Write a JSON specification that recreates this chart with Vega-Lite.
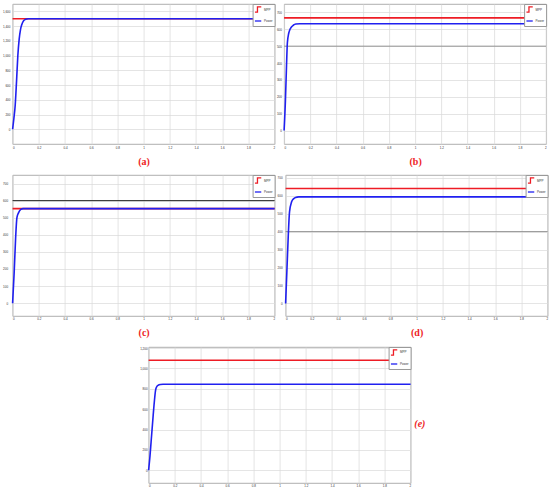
{
  "$schema": "https://vega.github.io/schema/vega-lite/v6.json",
  "background": "white",
  "padding": {"left": 1.6, "top": 3, "right": 2, "bottom": 2},
  "datasets": {
    "curves": [
      {"panel": "a", "series": "MPP", "t": 0, "P": 1500},
      {"panel": "a", "series": "MPP", "t": 2, "P": 1500},
      {"panel": "a", "series": "Power", "t": 0, "P": 0},
      {"panel": "a", "series": "Power", "t": 0.01, "P": 150},
      {"panel": "a", "series": "Power", "t": 0.02, "P": 330},
      {"panel": "a", "series": "Power", "t": 0.03, "P": 650},
      {"panel": "a", "series": "Power", "t": 0.04, "P": 1000},
      {"panel": "a", "series": "Power", "t": 0.05, "P": 1220},
      {"panel": "a", "series": "Power", "t": 0.06, "P": 1350},
      {"panel": "a", "series": "Power", "t": 0.07, "P": 1420},
      {"panel": "a", "series": "Power", "t": 0.08, "P": 1462},
      {"panel": "a", "series": "Power", "t": 0.09, "P": 1483},
      {"panel": "a", "series": "Power", "t": 0.1, "P": 1494},
      {"panel": "a", "series": "Power", "t": 0.12, "P": 1500},
      {"panel": "a", "series": "Power", "t": 2, "P": 1500},
      {"panel": "b", "series": "MPP", "t": 0, "P": 668},
      {"panel": "b", "series": "MPP", "t": 2, "P": 668},
      {"panel": "b", "series": "Power", "t": 0, "P": 0},
      {"panel": "b", "series": "Power", "t": 0.01, "P": 175},
      {"panel": "b", "series": "Power", "t": 0.018, "P": 372},
      {"panel": "b", "series": "Power", "t": 0.025, "P": 520},
      {"panel": "b", "series": "Power", "t": 0.035, "P": 575},
      {"panel": "b", "series": "Power", "t": 0.045, "P": 600},
      {"panel": "b", "series": "Power", "t": 0.056, "P": 614},
      {"panel": "b", "series": "Power", "t": 0.07, "P": 624},
      {"panel": "b", "series": "Power", "t": 0.09, "P": 631},
      {"panel": "b", "series": "Power", "t": 0.12, "P": 633},
      {"panel": "b", "series": "Power", "t": 2, "P": 633},
      {"panel": "c", "series": "MPP", "t": 0, "P": 553},
      {"panel": "c", "series": "MPP", "t": 2, "P": 553},
      {"panel": "c", "series": "Power", "t": 0, "P": 0},
      {"panel": "c", "series": "Power", "t": 0.012, "P": 180},
      {"panel": "c", "series": "Power", "t": 0.023, "P": 380},
      {"panel": "c", "series": "Power", "t": 0.033, "P": 500},
      {"panel": "c", "series": "Power", "t": 0.046, "P": 530},
      {"panel": "c", "series": "Power", "t": 0.063, "P": 549},
      {"panel": "c", "series": "Power", "t": 0.08, "P": 553},
      {"panel": "c", "series": "Power", "t": 2, "P": 553},
      {"panel": "d", "series": "MPP", "t": 0, "P": 640},
      {"panel": "d", "series": "MPP", "t": 2, "P": 640},
      {"panel": "d", "series": "Power", "t": 0, "P": 0},
      {"panel": "d", "series": "Power", "t": 0.01, "P": 183},
      {"panel": "d", "series": "Power", "t": 0.02, "P": 370},
      {"panel": "d", "series": "Power", "t": 0.03, "P": 510},
      {"panel": "d", "series": "Power", "t": 0.046, "P": 566},
      {"panel": "d", "series": "Power", "t": 0.06, "P": 582},
      {"panel": "d", "series": "Power", "t": 0.076, "P": 590},
      {"panel": "d", "series": "Power", "t": 0.1, "P": 593},
      {"panel": "d", "series": "Power", "t": 2, "P": 593},
      {"panel": "e", "series": "MPP", "t": 0, "P": 1080},
      {"panel": "e", "series": "MPP", "t": 2, "P": 1080},
      {"panel": "e", "series": "Power", "t": 0, "P": 0},
      {"panel": "e", "series": "Power", "t": 0.01, "P": 130},
      {"panel": "e", "series": "Power", "t": 0.019, "P": 278},
      {"panel": "e", "series": "Power", "t": 0.035, "P": 540},
      {"panel": "e", "series": "Power", "t": 0.045, "P": 690},
      {"panel": "e", "series": "Power", "t": 0.053, "P": 785},
      {"panel": "e", "series": "Power", "t": 0.062, "P": 820},
      {"panel": "e", "series": "Power", "t": 0.072, "P": 834},
      {"panel": "e", "series": "Power", "t": 0.09, "P": 842},
      {"panel": "e", "series": "Power", "t": 0.11, "P": 844},
      {"panel": "e", "series": "Power", "t": 2, "P": 844}
    ],
    "emph": [
      {"panel": "b", "P": 500},
      {"panel": "c", "P": 600},
      {"panel": "d", "P": 400}
    ]
  },
  "vconcat": [
    {
      "hconcat": [
        {
          "width": 262, "height": 140,
          "layer": [
            {
              "data": {"name": "curves"},
              "transform": [{"filter": "datum.panel === 'a'"}],
              "mark": {"type": "line", "strokeWidth": 1.6, "interpolate": "monotone"},
              "encoding": {
                "x": {"field": "t", "type": "quantitative", "scale": {"domain": [0, 2], "nice": false}, "axis": {"values": [0, 0.2, 0.4, 0.6, 0.8, 1, 1.2, 1.4, 1.6, 1.8, 2], "format": "~g", "title": "(a)"}},
                "y": {"field": "P", "type": "quantitative", "scale": {"domain": [-200, 1700], "nice": false, "zero": false}, "axis": {"values": [0, 200, 400, 600, 800, 1000, 1200, 1400, 1600], "title": null, "labelPadding": 2.7}},
                "color": {"field": "series", "type": "nominal", "scale": {"domain": ["MPP", "Power"], "range": ["#ee1c25", "#2020f0"]}, "legend": {"title": null, "encode": {"symbols": {"update": {"shape": {"signal": "datum.value === 'MPP' ? 'M-1,0.8L-0.2,0.8L-0.2,-0.8L1,-0.8' : 'stroke'"}}}}}}
              }
            }
          ]
        },
        {
          "width": 262, "height": 140,
          "layer": [
            {
              "data": {"name": "emph"},
              "transform": [{"filter": "datum.panel === 'b'"}],
              "mark": {"type": "rule", "color": "#8a8a8a", "strokeWidth": 0.9},
              "encoding": {"y": {"field": "P", "type": "quantitative", "axis": {"values": [0, 100, 200, 300, 400, 500, 600, 700], "title": null, "labelPadding": 2.7}}}
            },
            {
              "data": {"name": "curves"},
              "transform": [{"filter": "datum.panel === 'b'"}],
              "mark": {"type": "line", "strokeWidth": 1.6, "interpolate": "monotone"},
              "encoding": {
                "x": {"field": "t", "type": "quantitative", "scale": {"domain": [0, 2], "nice": false}, "axis": {"values": [0, 0.2, 0.4, 0.6, 0.8, 1, 1.2, 1.4, 1.6, 1.8, 2], "format": "~g", "title": "(b)"}},
                "y": {"field": "P", "type": "quantitative", "scale": {"domain": [-80, 750], "nice": false, "zero": false}, "axis": {"values": [0, 100, 200, 300, 400, 500, 600, 700], "title": null, "labelPadding": 2.7}},
                "color": {"field": "series", "type": "nominal", "scale": {"domain": ["MPP", "Power"], "range": ["#ee1c25", "#2020f0"]}, "legend": {"title": null, "encode": {"symbols": {"update": {"shape": {"signal": "datum.value === 'MPP' ? 'M-1,0.8L-0.2,0.8L-0.2,-0.8L1,-0.8' : 'stroke'"}}}}}}
              }
            }
          ]
        }
      ],
      "spacing": -3.5,
      "bounds": "full",
      "resolve": {"scale": {"color": "independent"}, "legend": {"color": "independent"}}
    },
    {
      "hconcat": [
        {
          "width": 262, "height": 141,
          "layer": [
            {
              "data": {"name": "emph"},
              "transform": [{"filter": "datum.panel === 'c'"}],
              "mark": {"type": "rule", "color": "#222222", "strokeWidth": 1},
              "encoding": {"y": {"field": "P", "type": "quantitative", "axis": {"values": [0, 100, 200, 300, 400, 500, 600, 700], "title": null, "labelPadding": 5}}}
            },
            {
              "data": {"name": "curves"},
              "transform": [{"filter": "datum.panel === 'c'"}],
              "mark": {"type": "line", "strokeWidth": 1.6, "interpolate": "monotone"},
              "encoding": {
                "x": {"field": "t", "type": "quantitative", "scale": {"domain": [0, 2], "nice": false}, "axis": {"values": [0, 0.2, 0.4, 0.6, 0.8, 1, 1.2, 1.4, 1.6, 1.8, 2], "format": "~g", "title": "(c)"}},
                "y": {"field": "P", "type": "quantitative", "scale": {"domain": [-75, 750], "nice": false, "zero": false}, "axis": {"values": [0, 100, 200, 300, 400, 500, 600, 700], "title": null, "labelPadding": 5}},
                "color": {"field": "series", "type": "nominal", "scale": {"domain": ["MPP", "Power"], "range": ["#ee1c25", "#2020f0"]}, "legend": {"title": null, "encode": {"symbols": {"update": {"shape": {"signal": "datum.value === 'MPP' ? 'M-1,0.8L-0.2,0.8L-0.2,-0.8L1,-0.8' : 'stroke'"}}}}}}
              }
            }
          ]
        },
        {
          "width": 262, "height": 141,
          "layer": [
            {
              "data": {"name": "emph"},
              "transform": [{"filter": "datum.panel === 'd'"}],
              "mark": {"type": "rule", "color": "#8a8a8a", "strokeWidth": 0.9},
              "encoding": {"y": {"field": "P", "type": "quantitative", "axis": {"values": [0, 100, 200, 300, 400, 500, 600, 700], "title": null, "labelPadding": 3.5}}}
            },
            {
              "data": {"name": "curves"},
              "transform": [{"filter": "datum.panel === 'd'"}],
              "mark": {"type": "line", "strokeWidth": 1.6, "interpolate": "monotone"},
              "encoding": {
                "x": {"field": "t", "type": "quantitative", "scale": {"domain": [0, 2], "nice": false}, "axis": {"values": [0, 0.2, 0.4, 0.6, 0.8, 1, 1.2, 1.4, 1.6, 1.8, 2], "format": "~g", "title": "(d)"}},
                "y": {"field": "P", "type": "quantitative", "scale": {"domain": [-70, 715], "nice": false, "zero": false}, "axis": {"values": [0, 100, 200, 300, 400, 500, 600, 700], "title": null, "labelPadding": 3.5}},
                "color": {"field": "series", "type": "nominal", "scale": {"domain": ["MPP", "Power"], "range": ["#ee1c25", "#2020f0"]}, "legend": {"title": null, "encode": {"symbols": {"update": {"shape": {"signal": "datum.value === 'MPP' ? 'M-1,0.8L-0.2,0.8L-0.2,-0.8L1,-0.8' : 'stroke'"}}}}}}
              }
            }
          ]
        }
      ],
      "spacing": -2,
      "bounds": "full",
      "resolve": {"scale": {"color": "independent"}, "legend": {"color": "independent"}}
    },
    {
      "hconcat": [
        {
          "width": 116, "height": 20,
          "view": {"stroke": null},
          "data": {"values": []},
          "mark": "point",
          "encoding": {}
        },
        {
          "width": 262, "height": 136,
          "title": {"text": "(e)", "orient": "right", "angle": 0, "color": "#ee1c25", "font": "Liberation Serif", "fontSize": 10, "fontWeight": "bold", "fontStyle": "italic", "offset": -5, "dy": 4},
          "layer": [
            {
              "data": {"name": "curves"},
              "transform": [{"filter": "datum.panel === 'e'"}],
              "mark": {"type": "line", "strokeWidth": 1.6, "interpolate": "monotone"},
              "encoding": {
                "x": {"field": "t", "type": "quantitative", "scale": {"domain": [0, 2], "nice": false}, "axis": {"values": [0, 0.2, 0.4, 0.6, 0.8, 1, 1.2, 1.4, 1.6, 1.8, 2], "format": "~g", "title": null}},
                "y": {"field": "P", "type": "quantitative", "scale": {"domain": [-125, 1210], "nice": false, "zero": false}, "axis": {"values": [0, 200, 400, 600, 800, 1000, 1200], "title": null, "labelPadding": 1.5}},
                "color": {"field": "series", "type": "nominal", "scale": {"domain": ["MPP", "Power"], "range": ["#ee1c25", "#2020f0"]}, "legend": {"title": null, "encode": {"symbols": {"update": {"shape": {"signal": "datum.value === 'MPP' ? 'M-1,0.8L-0.2,0.8L-0.2,-0.8L1,-0.8' : 'stroke'"}}}}}}
              }
            }
          ]
        }
      ],
      "spacing": 10,
      "bounds": "full",
      "resolve": {"scale": {"color": "independent"}, "legend": {"color": "independent"}}
    }
  ],
  "spacing": 7,
  "bounds": "full",
  "resolve": {"scale": {"color": "independent"}, "legend": {"color": "independent"}},
  "config": {
    "view": {"stroke": "#9a9a9a", "strokeWidth": 0.8},
    "axis": {
      "labelFontSize": 3,
      "labelFont": "Liberation Sans",
      "labelColor": "#333333",
      "labelPadding": 2,
      "gridColor": "#d8d8d8",
      "gridWidth": 0.7,
      "domain": false,
      "ticks": false,
      "titleFont": "Liberation Serif",
      "titleColor": "#ee1c25",
      "titleFontSize": 10,
      "titleFontWeight": "bold",
      "titlePadding": 7
    },
    "legend": {
      "orient": "top-right",
      "offset": 0,
      "padding": 1.5,
      "fillColor": "white",
      "strokeColor": "#999999",
      "labelFontSize": 3,
      "labelFont": "Liberation Sans",
      "labelColor": "#333333",
      "labelOffset": 2,
      "symbolSize": 40,
      "symbolStrokeWidth": 1.3,
      "rowPadding": 1.5
    }
  }
}
